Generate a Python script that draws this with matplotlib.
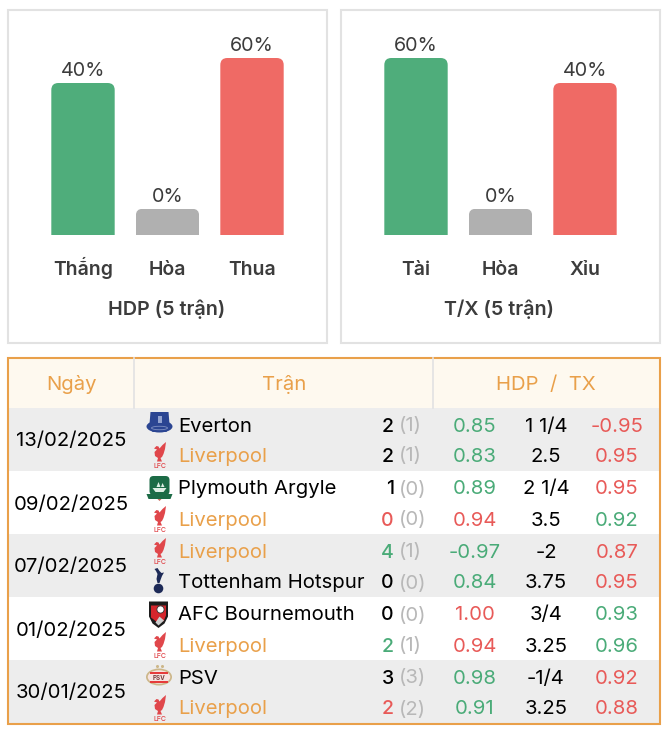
import matplotlib
matplotlib.use('Agg')
import matplotlib.pyplot as plt
from matplotlib.patches import Rectangle, FancyBboxPatch, Ellipse, Circle, Polygon
from matplotlib.transforms import IdentityTransform

plt.rcParams['font.family'] = ['Inter', 'DejaVu Sans']

W, H = 672, 734

# bar panels
hdp_labels = ['Thắng', 'Hòa', 'Thua']
hdp_values = [40, 0, 60]
tx_labels = ['Tài', 'Hòa', 'Xỉu']
tx_values = [60, 0, 40]
hdp_title = 'HDP (5 trận)'
tx_title = 'T/X (5 trận)'

# table
header = ['Ngày', 'Trận', 'HDP  /  TX']
dates = ['13/02/2025', '09/02/2025', '07/02/2025', '01/02/2025', '30/01/2025']
teams = [['Everton', 'Liverpool'], ['Plymouth Argyle', 'Liverpool'],
         ['Liverpool', 'Tottenham Hotspur'], ['AFC Bournemouth', 'Liverpool'],
         ['PSV', 'Liverpool']]
goals = [[2, 2], [1, 0], [4, 0], [0, 2], [3, 2]]
half_goals = [[1, 1], [0, 0], [1, 0], [0, 1], [3, 2]]
odds_a = [['0.85', '0.83'], ['0.89', '0.94'], ['-0.97', '0.84'], ['1.00', '0.94'], ['0.98', '0.91']]
lines = [['1 1/4', '2.5'], ['2 1/4', '3.5'], ['-2', '3.75'], ['3/4', '3.25'], ['-1/4', '3.25']]
odds_b = [['-0.95', '0.95'], ['0.95', '0.92'], ['0.87', '0.95'], ['0.93', '0.96'], ['0.92', '0.88']]
# g = green, r = red, k = black
a_state = [['g', 'g'], ['g', 'r'], ['g', 'g'], ['r', 'r'], ['g', 'g']]
b_state = [['r', 'r'], ['r', 'g'], ['r', 'r'], ['g', 'g'], ['r', 'r']]
goal_state = [['k', 'k'], ['k', 'r'], ['g', 'k'], ['k', 'g'], ['k', 'r']]

GREEN = '#4fad7b'
RED = '#ef6a65'
GREY = '#b0b0b0'
ORANGE = '#e9a04a'
TXT_GREEN = '#4aab78'
TXT_RED = '#e85a58'
DARK = '#3c3c3c'
LFC_RED = '#e0474b'
state_col = {'g': TXT_GREEN, 'r': TXT_RED, 'k': 'black'}

fig = plt.figure(figsize=(W / 100, H / 100), dpi=100)
bg = fig.add_axes([0, 0, 1, 1])
bg.set_xlim(0, W)
bg.set_ylim(H, 0)
bg.axis('off')

BASE = 6.5  # row centre to text baseline


def bar_panel(px, labels, values, title):
    bg.add_patch(Rectangle((px, 10), 319, 333, fc='white', ec='#e2e2e2', lw=1.5))
    # percent scale: 1.25 px per percent, zero bars get a fixed stub
    ax = fig.add_axes([(px + 32.75) / W, 1 - 235 / H, 253.5 / W, 185 / H])
    ax.set_xlim(-0.5, 2.5)
    ax.set_ylim(-81.6, 66.4)
    ax.axis('off')
    heights = [v + 81.6 if v > 0 else 21 for v in values]
    cols = [GREEN, GREY, RED]
    bars = ax.bar(range(3), heights, bottom=-81.6, width=0.75, color=cols)
    fig.canvas.draw()
    for b, v, lab, i in zip(bars, values, labels, range(3)):
        top = b.get_y() + b.get_height()
        x0, y0 = ax.transData.transform((b.get_x(), b.get_y()))
        x1, y1 = ax.transData.transform((b.get_x() + b.get_width(), top))
        clip = FancyBboxPatch((x0, y0 - 20), x1 - x0, y1 - y0 + 20,
                              boxstyle='round,pad=0,rounding_size=7',
                              transform=IdentityTransform())
        b.set_clip_path(clip)
        ax.annotate(f'{v}%', (i, top), xytext=(0, 2), textcoords='offset points',
                    ha='center', va='bottom', fontsize=14.2, color=DARK)
        bg.text((x0 + x1) / 2, 275, lab, ha='center', va='baseline', fontsize=14,
                color=DARK, fontweight='semibold')
    bg.text(px + 158.5, 315, title, ha='center', va='baseline', fontsize=14.2,
            color=DARK, fontweight='semibold')


bar_panel(8, hdp_labels, hdp_values, hdp_title)
bar_panel(341, tx_labels, tx_values, tx_title)

# table frame and rows
bg.add_patch(Rectangle((7, 358), 653, 366, fc='white', ec='none'))
bg.add_patch(Rectangle((7, 358), 653, 50, fc='#fef9ef', ec='none'))
row_h = 63
for r in range(5):
    y0 = 408 + r * row_h
    if r % 2 == 0:
        bg.add_patch(Rectangle((7, y0), 653, row_h, fc='#ededed', ec='none'))
bg.plot([134, 134], [358, 408], color='#e2e2e2', lw=1.2)
bg.plot([433, 433], [358, 408], color='#e2e2e2', lw=1.2)
bg.add_patch(Rectangle((7.5, 357.5), 652.5, 366.5, fc='none', ec=ORANGE, lw=1.5))

bg.text(71, 390, header[0], ha='center', va='baseline', fontsize=14.6, color=ORANGE)
bg.text(284, 390, header[1], ha='center', va='baseline', fontsize=14.6, color=ORANGE)
bg.text(546, 390, header[2], ha='center', va='baseline', fontsize=14.6, color=ORANGE)


def liverpool(y):
    cx, cy = 159.5, y - 3
    bg.add_patch(Polygon([(cx - 5.5, cy - 4.5), (cx - 3, cy - 7), (cx - 1, cy - 6.5), (cx, cy - 4.5),
                          (cx + 3, cy - 8), (cx + 6.5, cy - 11), (cx + 5.5, cy - 4), (cx + 4, cy + 1),
                          (cx + 2.5, cy + 4), (cx + 1, cy + 5), (cx + 2.5, cy + 8.5), (cx - 2.5, cy + 8.5),
                          (cx - 1.5, cy + 5), (cx - 4.5, cy + 3), (cx - 5, cy - 1), (cx - 2.5, cy - 3.5)],
                         fc=LFC_RED, ec='none'))
    bg.text(cx, cy + 13, 'LFC', ha='center', va='center', fontsize=5, color=LFC_RED,
            fontweight='medium')


def everton(y):
    cx, cy = 159.5, y - 2
    bg.add_patch(Polygon([(cx - 9, cy - 11), (cx + 9, cy - 11), (cx + 10, cy + 1), (cx + 7, cy + 9),
                          (cx - 7, cy + 9), (cx - 10, cy + 1)], fc='#2b4592', ec='none'))
    bg.add_patch(Ellipse((cx, cy + 3.5), 26, 12, fc='#2b4592', ec='none'))
    bg.add_patch(Ellipse((cx, cy + 5), 16, 3.5, fc='none', ec='#7f90c2', lw=0.6))
    bg.add_patch(Rectangle((cx - 1.5, cy - 7), 4, 7, fc='#93a3d0', ec='none'))


def plymouth(y):
    cx, cy = 159.5, y
    bg.add_patch(FancyBboxPatch((cx - 10, cy - 12), 20, 19, boxstyle='round,pad=0,rounding_size=4',
                                fc='#1c6b46', ec='none'))
    bg.add_patch(Polygon([(cx - 7, cy + 0), (cx + 7, cy + 0), (cx + 4, cy + 4), (cx - 4, cy + 4)],
                         fc='#dfeee4', ec='none'))
    bg.add_patch(Polygon([(cx - 3, cy - 1), (cx - 1, cy - 6), (cx + 1, cy - 1)], fc='#dfeee4', ec='none'))
    bg.add_patch(Polygon([(cx + 1.5, cy - 1), (cx + 3, cy - 5), (cx + 5, cy - 1)], fc='#dfeee4', ec='none'))
    bg.add_patch(Polygon([(cx - 13, cy + 6), (cx + 13, cy + 6), (cx + 11, cy + 11), (cx - 11, cy + 11)],
                         fc='#1c6b46', ec='none'))
    bg.add_patch(Polygon([(cx - 2, cy + 11), (cx + 2, cy + 11), (cx, cy + 13)], fc='#c96a5a', ec='none'))


def spurs(y):
    cx, cy = 158.5, y - 1
    bg.add_patch(Polygon([(cx - 4, cy - 12), (cx - 1, cy - 13), (cx + 1, cy - 10), (cx + 3, cy - 8),
                          (cx + 5.5, cy - 8.5), (cx + 3.5, cy - 5), (cx + 2, cy - 1), (cx + 1, cy + 2),
                          (cx - 1, cy + 2), (cx - 2, cy - 2), (cx - 1, cy - 7), (cx - 2.5, cy - 10)],
                         fc='#1d2a57', ec='none'))
    bg.add_patch(Circle((cx, cy + 7.5), 4.8, fc='#1d2a57', ec='none'))


def bournemouth(y):
    cx, cy = 158.5, y + 0.5
    bg.add_patch(Polygon([(cx - 9.5, cy - 13), (cx + 9.5, cy - 13), (cx + 9.5, cy + 2), (cx + 6, cy + 9),
                          (cx, cy + 13.5), (cx - 6, cy + 9), (cx - 9.5, cy + 2)], fc='#1d1d1d', ec='none'))
    bg.add_patch(Polygon([(cx - 7.5, cy - 9), (cx + 7.5, cy - 9), (cx + 7.5, cy + 1), (cx + 5, cy + 7),
                          (cx + 1, cy + 2), (cx - 1, cy + 8), (cx - 7.5, cy + 3)], fc='#d4262c', ec='none'))
    bg.add_patch(Polygon([(cx + 1, cy + 2), (cx + 5.5, cy + 6), (cx, cy + 11), (cx - 3, cy + 8)],
                         fc='#cfcfcf', ec='none'))
    bg.add_patch(Circle((cx + 2, cy - 5), 3.6, fc='white', ec='#333333', lw=0.6))


def psv(y):
    cx, cy = 159, y
    bg.add_patch(Ellipse((cx, cy), 26, 17, fc='#cdb78a', ec='none'))
    bg.add_patch(Ellipse((cx, cy), 22.5, 13.5, fc='#f6e4e2', ec='none'))
    bg.add_patch(Rectangle((cx - 9, cy - 5.5), 18, 2, fc='#e63b3b', ec='none'))
    bg.add_patch(Rectangle((cx - 9, cy + 3.5), 18, 2, fc='#e63b3b', ec='none'))
    bg.text(cx, cy + 0.5, 'PSV', ha='center', va='center', fontsize=4.5, color='#7a3b3b', fontweight='bold')
    bg.plot([cx - 2.5, cx + 2.5], [cy - 11, cy - 11], ls='none', marker='o', ms=1.2, color='#cdb78a')


crests = {'Everton': everton, 'Liverpool': liverpool, 'Plymouth Argyle': plymouth,
          'Tottenham Hotspur': spurs, 'AFC Bournemouth': bournemouth, 'PSV': psv}

team_y = [[425, 455], [488, 519], [551, 582], [614, 645], [677, 708]]
date_y = [440, 503, 566, 629, 692]
fs = 14.6
for r in range(5):
    bg.text(71, date_y[r] + BASE, dates[r], ha='center', va='baseline', fontsize=fs, color='black')
    for k in range(2):
        y = team_y[r][k]
        name = teams[r][k]
        crests[name](y + (1 if name == 'Liverpool' else 0))
        ty = y + BASE
        bg.text(178.5, ty, name, ha='left', va='baseline', fontsize=fs,
                color=ORANGE if name == 'Liverpool' else 'black')
        bg.text(394, ty, str(goals[r][k]), ha='right', va='baseline', fontsize=fs - 0.6,
                color=state_col[goal_state[r][k]], fontweight='medium')
        bg.text(399, ty, f'({half_goals[r][k]})', ha='left', va='baseline', fontsize=fs, color='#b8b8b8')
        bg.text(475, ty, odds_a[r][k], ha='center', va='baseline', fontsize=fs,
                color=state_col[a_state[r][k]])
        bg.text(546, ty, lines[r][k], ha='center', va='baseline', fontsize=fs, color='black')
        bg.text(617, ty, odds_b[r][k], ha='center', va='baseline', fontsize=fs,
                color=state_col[b_state[r][k]])

fig.savefig('out.png', dpi=100)
